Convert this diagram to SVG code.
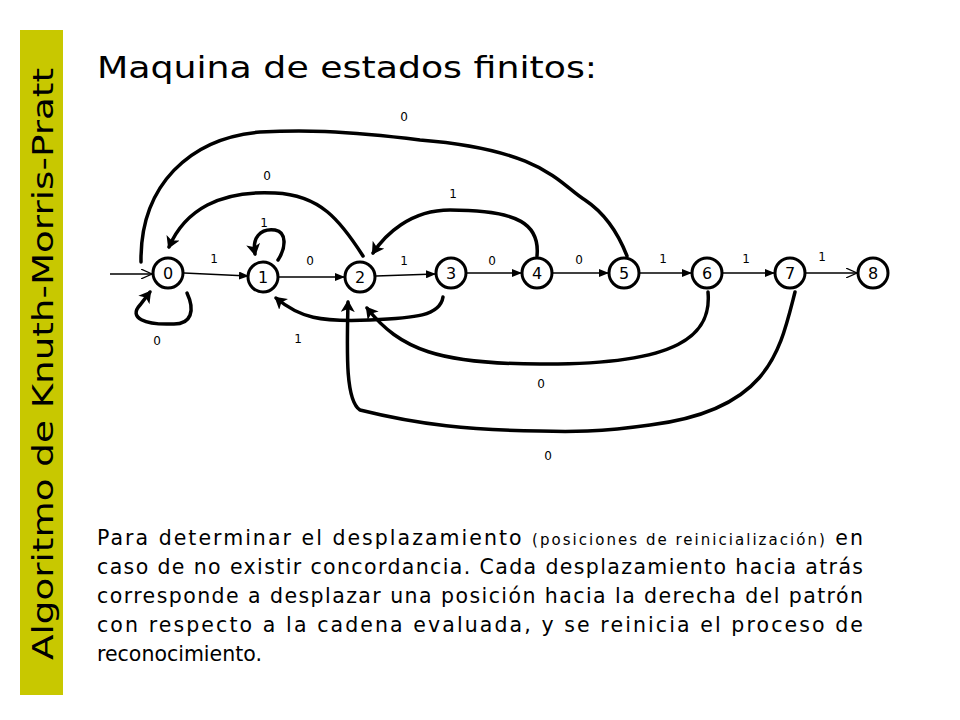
<svg xmlns="http://www.w3.org/2000/svg" width="960" height="720" viewBox="0 0 960 720">
<style>
.n circle{fill:#fff;stroke:#000;stroke-width:3}
.n text{font-family:"DejaVu Sans",sans-serif;font-size:16px;text-anchor:middle}
.e{fill:none;stroke:#000;stroke-width:1.3}
.b{fill:none;stroke:#000;stroke-width:3.5;stroke-linecap:round}
.l{font-family:"DejaVu Sans",sans-serif;font-size:12px;text-anchor:middle}
.p{font-family:"DejaVu Sans",sans-serif;font-size:20.5px}
</style>
<defs>
<marker id="a" markerWidth="10" markerHeight="8" refX="9" refY="4" orient="auto" markerUnits="userSpaceOnUse"><path d="M0,0 L10,4 L0,8 Z"/></marker>
<marker id="o" markerWidth="12" markerHeight="10" refX="11" refY="5" orient="auto" markerUnits="userSpaceOnUse"><path d="M0,0 L11,5 L0,10" fill="none" stroke="#000" stroke-width="1.2"/></marker>
<marker id="B" markerWidth="14" markerHeight="14" refX="10" refY="7" orient="auto" markerUnits="userSpaceOnUse"><path d="M0,0 L12,7 L0,14 L3,7 Z"/></marker>
</defs>
<rect x="20" y="30" width="43" height="665" fill="#c8c800"/>
<text transform="translate(53,364) rotate(-90)" text-anchor="middle" font-family="'DejaVu Sans',sans-serif" font-size="29" textLength="592" lengthAdjust="spacingAndGlyphs" fill="#000">Algoritmo de Knuth-Morris-Pratt</text>
<text x="97" y="78" font-family="'DejaVu Sans',sans-serif" font-size="31" textLength="500" lengthAdjust="spacingAndGlyphs">Maquina de estados finitos:</text>
<g id="connectors">
<path class="e" d="M110,274 L152,274" marker-end="url(#o)"/>
<path class="e" d="M184,273 L248,276" marker-end="url(#a)"/>
<path class="e" d="M279,277 L344,277" marker-end="url(#a)"/>
<path class="e" d="M376,276 L435,274" marker-end="url(#a)"/>
<path class="e" d="M467,273 L521,273" marker-end="url(#a)"/>
<path class="e" d="M553,273 L608,273" marker-end="url(#a)"/>
<path class="e" d="M640,273 L691,273" marker-end="url(#a)"/>
<path class="e" d="M723,273 L774,273" marker-end="url(#a)"/>
<path class="e" d="M806,273 L857,273" marker-end="url(#o)"/>
<path class="b" d="M187,293 C195,310 192,325 172,324 C145,325 128,318 140,305 L150,292" marker-end="url(#B)"/>
<path class="b" d="M278,260 C286,248 287,232 275,230 C260,228 252,238 255,254" marker-end="url(#B)"/>
<path class="b" d="M363,256 C340,220 320,195 275,193 C220,190 185,210 169,247" marker-end="url(#B)"/>
<path class="b" d="M627,256 C615,225 600,210 585,200 C560,185 545,150 420,140 C340,130 300,130 260,132 C190,138 140,185 141,262"/>
<path class="b" d="M537,256 C540,225 520,210 450,210 C410,210 385,235 373,253" marker-end="url(#B)"/>
<path class="b" d="M443,297 C440,316 415,318 370,320 C320,322 300,318 276,298" marker-end="url(#B)"/>
<path class="b" d="M708,292 C712,335 680,365 540,364 C440,364 400,350 367,308" marker-end="url(#B)"/>
<path class="b" d="M795,292 C780,350 770,410 650,425 C600,432 570,432 540,431 C470,430 420,425 360,410 C345,400 347,350 348,302" marker-end="url(#B)"/>
</g>
<g id="n0" class="n"><circle cx="168" cy="273" r="15"/><text x="168" y="279">0</text></g>
<g id="n1" class="n"><circle cx="263" cy="277" r="15"/><text x="263" y="283">1</text></g>
<g id="n2" class="n"><circle cx="360" cy="277" r="15"/><text x="360" y="283">2</text></g>
<g id="n3" class="n"><circle cx="451" cy="273" r="15"/><text x="451" y="279">3</text></g>
<g id="n4" class="n"><circle cx="537" cy="273" r="15"/><text x="537" y="279">4</text></g>
<g id="n5" class="n"><circle cx="624" cy="273" r="15"/><text x="624" y="279">5</text></g>
<g id="n6" class="n"><circle cx="707" cy="273" r="15"/><text x="707" y="279">6</text></g>
<g id="n7" class="n"><circle cx="790" cy="273" r="15"/><text x="790" y="279">7</text></g>
<g id="n8" class="n"><circle cx="873" cy="273" r="15"/><text x="873" y="279">8</text></g>
<g id="labels">
<text class="l" x="214" y="263">1</text>
<text class="l" x="310" y="265">0</text>
<text class="l" x="404" y="265">1</text>
<text class="l" x="492" y="265">0</text>
<text class="l" x="579" y="264">0</text>
<text class="l" x="663" y="263">1</text>
<text class="l" x="746" y="263">1</text>
<text class="l" x="822" y="261">1</text>
<text class="l" x="264" y="227">1</text>
<text class="l" x="157" y="345">0</text>
<text class="l" x="267" y="180">0</text>
<text class="l" x="404" y="121">0</text>
<text class="l" x="453" y="198">1</text>
<text class="l" x="298" y="343">1</text>
<text class="l" x="541" y="388">0</text>
<text class="l" x="548" y="460">0</text>
</g>
<text class="p" x="97" y="545" textLength="766" lengthAdjust="spacing">Para determinar el desplazamiento <tspan font-size="15">(posiciones de reinicialización)</tspan> en</text>
<text class="p" x="97" y="574" textLength="766" lengthAdjust="spacing">caso de no existir concordancia. Cada desplazamiento hacia atrás</text>
<text class="p" x="97" y="603" textLength="766" lengthAdjust="spacing">corresponde a desplazar una posición hacia la derecha del patrón</text>
<text class="p" x="97" y="632" textLength="766" lengthAdjust="spacing">con respecto a la cadena evaluada, y se reinicia el proceso de</text>
<text class="p" x="97" y="661">reconocimiento.</text>
</svg>
